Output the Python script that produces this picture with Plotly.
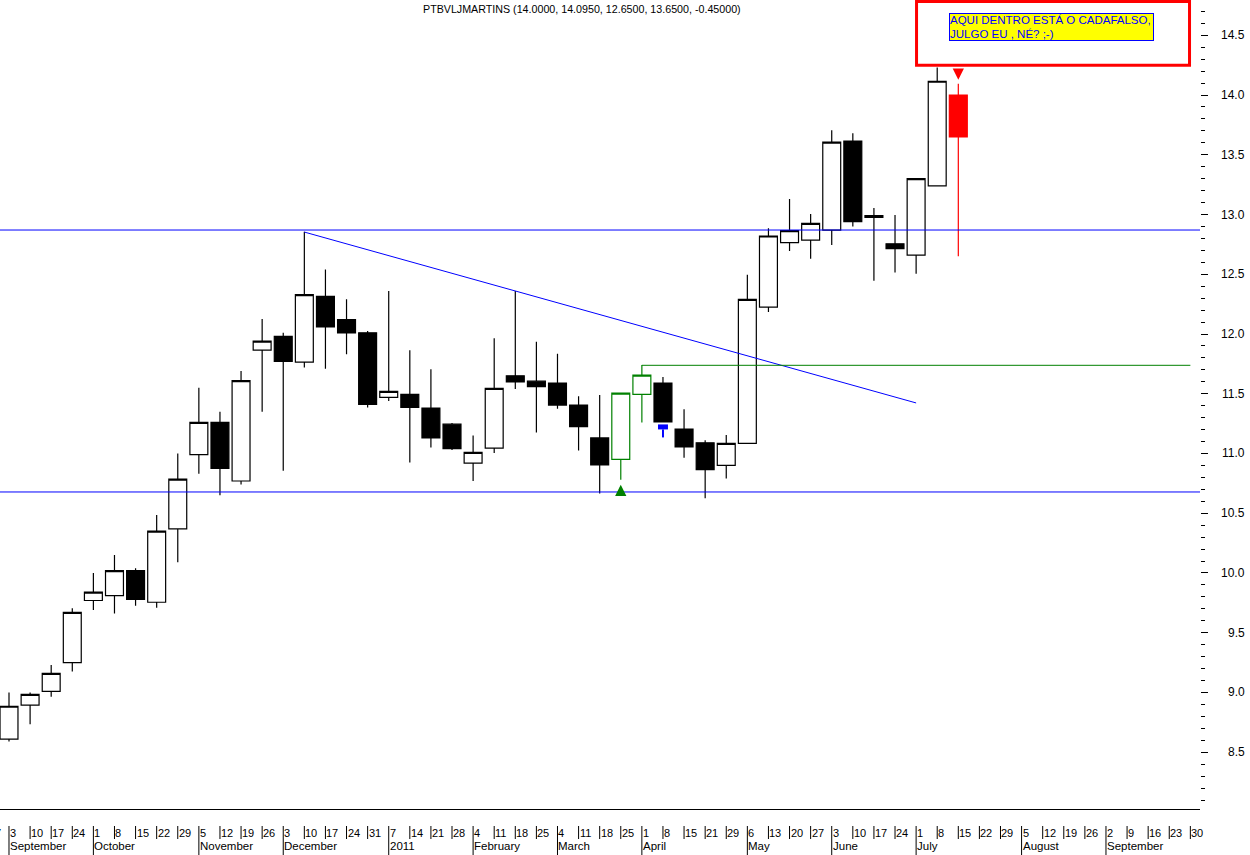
import plotly.graph_objects as go

# ---------------- data ----------------
# Friday of each week, index -1 .. 56 (index 0 = first candle)
week_dates = [
    "2010-08-27", "2010-09-03", "2010-09-10", "2010-09-17", "2010-09-24",
    "2010-10-01", "2010-10-08", "2010-10-15", "2010-10-22", "2010-10-29",
    "2010-11-05", "2010-11-12", "2010-11-19", "2010-11-26",
    "2010-12-03", "2010-12-10", "2010-12-17", "2010-12-24", "2010-12-31",
    "2011-01-07", "2011-01-14", "2011-01-21", "2011-01-28",
    "2011-02-04", "2011-02-11", "2011-02-18", "2011-02-25",
    "2011-03-04", "2011-03-11", "2011-03-18", "2011-03-25",
    "2011-04-01", "2011-04-08", "2011-04-15", "2011-04-21", "2011-04-29",
    "2011-05-06", "2011-05-13", "2011-05-20", "2011-05-27",
    "2011-06-03", "2011-06-10", "2011-06-17", "2011-06-24",
    "2011-07-01", "2011-07-08", "2011-07-15", "2011-07-22", "2011-07-29",
    "2011-08-05", "2011-08-12", "2011-08-19", "2011-08-26",
    "2011-09-02", "2011-09-09", "2011-09-16", "2011-09-23", "2011-09-30",
]
FIRST_WEEK_INDEX = -1

opens = [8.61, 8.895, 9.01, 9.25, 9.77, 9.81, 10.02, 9.755, 10.37, 10.99,
         11.26, 10.77, 11.865, 11.98, 11.765, 12.315, 12.12, 12.01, 11.47, 11.495,
         11.38, 11.245, 10.92, 11.045, 11.65, 11.605, 11.59, 11.405, 11.13, 10.95,
         11.495, 11.59, 11.205, 11.09, 10.90, 11.085, 12.225, 12.765, 12.785, 12.87,
         13.615, 12.99, 12.755, 12.66, 13.24, 14.0]
highs = [9.00, 9.00, 9.23, 9.705, 10.00, 10.15, 10.04, 10.485, 11.00, 11.55,
         11.35, 11.69, 12.125, 12.01, 12.855, 12.54, 12.29, 12.025, 12.36, 11.865,
         11.705, 11.255, 11.15, 11.965, 12.36, 11.935, 11.835, 11.48, 11.49, 11.505,
         11.74, 11.64, 11.37, 11.11, 11.155, 12.495, 12.885, 13.13, 13.005, 13.705,
         13.68, 13.055, 12.995, 13.30, 14.23, 14.095]
lows = [8.59, 8.734, 8.965, 9.175, 9.69, 9.66, 9.725, 9.71, 10.09, 10.83,
        10.65, 10.74, 11.35, 10.855, 11.72, 11.71, 11.83, 11.385, 11.44, 10.925,
        11.05, 11.03, 10.77, 11.005, 11.54, 11.175, 11.375, 11.025, 10.665, 10.78,
        11.26, 11.26, 10.965, 10.625, 10.79, 11.08, 12.185, 12.695, 12.63, 12.745,
        12.90, 12.445, 12.515, 12.505, 13.24, 12.65]
closes = [8.885, 8.985, 9.16, 9.67, 9.84, 10.02, 9.78, 10.35, 10.785, 11.26,
          10.875, 11.61, 11.94, 11.77, 12.33, 12.06, 12.01, 11.41, 11.52, 11.385,
          11.13, 11.04, 11.01, 11.545, 11.60, 11.56, 11.405, 11.225, 10.905, 11.505,
          11.655, 11.265, 11.055, 10.865, 11.085, 12.29, 12.82, 12.865, 12.925, 13.605,
          12.94, 12.975, 12.715, 13.30, 14.115, 13.65]

green_weeks = [29, 30]
red_weeks = [45]
buy_arrow_week = 29
sell_arrow_week = 45
flag_week = 31

resistance_level = 12.87
support_level = 10.678
trend_weeks = [14, 43]
trend_prices = [12.853, 11.423]
green_level_weeks = [30, 56]
green_level = 11.738

box_weeks = [43.02, 55.96]
box_prices = [14.249, 14.782]
note_week = 44.56
note_price = 14.689
note_text = "AQUI DENTRO ESTÁ O CADAFALSO,<br>JULGO EU , NÉ? ;-)"

title_text = "PTBVLJMARTINS (14.0000, 14.0950, 12.6500, 13.6500, -0.45000)"

y_tick_values = [8.5, 9.0, 9.5, 10.0, 10.5, 11.0, 11.5, 12.0, 12.5, 13.0, 13.5, 14.0, 14.5]
y_tick_labels = ["8.5", "9.0", "9.5", "10.0", "10.5", "11.0", "11.5", "12.0",
                 "12.5", "13.0", "13.5", "14.0", "14.5"]

month_names = ["September", "October", "November", "December", "2011", "February",
               "March", "April", "May", "June", "July", "August", "September"]
month_start_weeks = [0, 4, 9, 13, 18, 22, 26, 30, 35, 39, 43, 48, 52]

# ---------------- layout geometry ----------------
W, H = 1250, 855
PLOT_W, PLOT_H = 1200, 809
X_MIN, X_MAX = -0.4266, 56.457
Y_MIN, Y_MAX = 8.025, 14.795
FONT = "Liberation Sans, Arial, sans-serif"


def xp(i):
    return (i - X_MIN) / (X_MAX - X_MIN)


def yp(py):
    return (PLOT_H - py) / PLOT_H


weeks = list(range(len(opens)))
special = set(green_weeks) | set(red_weeks)
main_idx = [i for i in weeks if i not in special]


def pick(idx):
    return dict(x=idx, open=[opens[i] for i in idx], high=[highs[i] for i in idx],
                low=[lows[i] for i in idx], close=[closes[i] for i in idx])


fig = go.Figure()
LW = 1.2
fig.add_trace(go.Candlestick(
    **pick(main_idx),
    increasing=dict(line=dict(color="black", width=LW), fillcolor="white"),
    decreasing=dict(line=dict(color="black", width=LW), fillcolor="black"),
    hoverinfo="skip", showlegend=False))
fig.add_trace(go.Candlestick(
    **pick(green_weeks),
    increasing=dict(line=dict(color="#008000", width=LW), fillcolor="white"),
    decreasing=dict(line=dict(color="#008000", width=LW), fillcolor="#008000"),
    hoverinfo="skip", showlegend=False))
fig.add_trace(go.Candlestick(
    **pick(red_weeks),
    increasing=dict(line=dict(color="#FF0000", width=LW), fillcolor="white"),
    decreasing=dict(line=dict(color="#FF0000", width=LW), fillcolor="#FF0000"),
    hoverinfo="skip", showlegend=False))

shapes = []
# horizontal support / resistance lines
for lvl in (resistance_level, support_level):
    shapes.append(dict(type="line", xref="paper", yref="y", x0=0, x1=1, y0=lvl, y1=lvl,
                       line=dict(color="#0000FF", width=1)))
# trend line
shapes.append(dict(type="line", xref="x", yref="y", x0=trend_weeks[0], x1=trend_weeks[1],
                   y0=trend_prices[0], y1=trend_prices[1], line=dict(color="#0000FF", width=1)))
# green level
shapes.append(dict(type="line", xref="x", yref="y", x0=green_level_weeks[0], x1=green_level_weeks[1],
                   y0=green_level, y1=green_level, line=dict(color="#008000", width=1)))
# red box
shapes.append(dict(type="rect", xref="x", yref="y", x0=box_weeks[0], x1=box_weeks[1],
                   y0=box_prices[0], y1=box_prices[1], line=dict(color="#FF0000", width=3)))
# blue flag under week 31
shapes.append(dict(type="rect", xref="x", yref="y", xsizemode="pixel", ysizemode="pixel",
                   xanchor=flag_week, yanchor=lows[flag_week], x0=-5, x1=5, y0=-2, y1=-7,
                   fillcolor="#0000FF", line=dict(width=0)))
shapes.append(dict(type="line", xref="x", yref="y", xsizemode="pixel", ysizemode="pixel",
                   xanchor=flag_week, yanchor=lows[flag_week], x0=0, x1=0, y0=-7, y1=-15,
                   line=dict(color="#0000FF", width=2)))

# date axis separators
for k, d in enumerate(week_dates):
    i = k + FIRST_WEEK_INDEX
    shapes.append(dict(type="line", xref="paper", yref="paper", x0=xp(i), x1=xp(i),
                       y0=yp(826), y1=yp(839), line=dict(color="black", width=1)))
for s in month_start_weeks:
    shapes.append(dict(type="line", xref="paper", yref="paper", x0=xp(s), x1=xp(s),
                       y0=yp(839), y1=yp(855), line=dict(color="black", width=1)))

annotations = []
# title
annotations.append(dict(text=title_text, xref="paper", yref="paper", x=582 / PLOT_W, y=yp(9),
                        xanchor="center", yanchor="middle", showarrow=False,
                        font=dict(family=FONT, size=10.7, color="black")))
# note box
annotations.append(dict(text=note_text, xref="x", yref="y", x=note_week, y=note_price,
                        xanchor="left", yanchor="top", align="left", valign="middle",
                        showarrow=False,
                        bgcolor="#FFFF00", bordercolor="#0000FF", borderwidth=1, borderpad=0,
                        width=203, height=26, font=dict(family=FONT, size=11.5, color="#0000FF")))
# arrows
annotations.append(dict(text="", xref="x", yref="y", x=buy_arrow_week, y=lows[buy_arrow_week],
                        showarrow=True, ax=0, ay=15, standoff=5, arrowhead=2, arrowsize=0.9,
                        arrowwidth=2.5, arrowcolor="#008000"))
annotations.append(dict(text="", xref="x", yref="y", x=sell_arrow_week, y=highs[sell_arrow_week],
                        showarrow=True, ax=0, ay=-15, standoff=4, arrowhead=2, arrowsize=0.9,
                        arrowwidth=2.5, arrowcolor="#FF0000"))
# y tick labels (right aligned)
for v, t in zip(y_tick_values, y_tick_labels):
    annotations.append(dict(text=t, xref="paper", yref="y", x=1247 / PLOT_W, y=v,
                            xanchor="right", yanchor="middle", showarrow=False,
                            font=dict(family=FONT, size=12, color="black")))
# day labels
for k, d in enumerate(week_dates):
    i = k + FIRST_WEEK_INDEX
    annotations.append(dict(text=str(int(d[8:10])), xref="paper", yref="paper", x=xp(i), y=yp(833),
                            xanchor="left", yanchor="middle", showarrow=False, xshift=0,
                            borderpad=0, font=dict(family=FONT, size=11, color="black")))
# month labels
for name, s in zip(month_names, month_start_weeks):
    annotations.append(dict(text=name, xref="paper", yref="paper", x=xp(s), y=yp(846),
                            xanchor="left", yanchor="middle", showarrow=False, xshift=0,
                            borderpad=0, font=dict(family=FONT, size=11.5, color="black")))

fig.update_layout(
    width=W, height=H,
    margin=dict(l=0, r=W - PLOT_W, t=0, b=H - PLOT_H, pad=0),
    paper_bgcolor="white", plot_bgcolor="white",
    boxgap=0.15, boxgroupgap=0,
    showlegend=False,
    shapes=shapes, annotations=annotations,
    xaxis=dict(range=[X_MIN, X_MAX], showgrid=False, zeroline=False, showticklabels=False,
               ticks="", showline=True, linecolor="black", linewidth=1,
               rangeslider=dict(visible=False), fixedrange=True),
    yaxis=dict(range=[Y_MIN, Y_MAX], side="right", showgrid=False, zeroline=False,
               showline=False, showticklabels=False, ticks="outside", ticklen=7,
               tickwidth=1, tickcolor="black", tick0=0, dtick=0.5,
               minor=dict(ticks="outside", ticklen=4, tickwidth=1, tickcolor="black",
                          tick0=0, dtick=0.1),
               fixedrange=True),
)

fig.write_html("out.html", config={"displayModeBar": False},
               post_script="document.body.style.margin='0px';document.body.style.overflow='hidden';")
